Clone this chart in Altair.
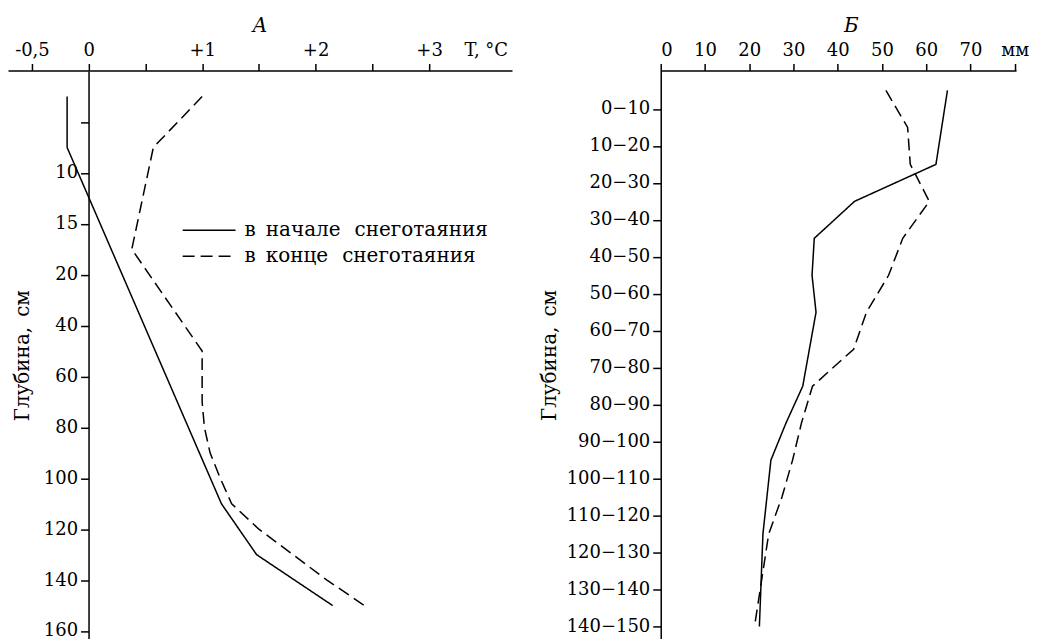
import json
import altair as alt
import pandas as pd

FONT = "DejaVu Serif"
SERIES = ["в\u2002начале\u2002\u2009снеготаяния", "в\u2002конце\u2002\u2009снеготаяния"]
DEPTH_TITLE = "Глубина,\u2002см"

# ---- Panel A: soil temperature profile ----
a_start_temp = [-0.19, -0.19, 1.17, 1.48, 2.15]
a_start_depth = [2.5, 7.5, 110, 130, 150]
a_end_temp = [1.0, 0.57, 0.38, 1.0, 1.0, 1.02, 1.07, 1.16, 1.26, 1.5, 1.8, 2.1, 2.43]
a_end_depth = [2.5, 7.5, 17.5, 50, 70, 80, 90, 100, 110, 120, 130, 140, 150]

a_temp_ticks = [-0.5, 0, 0.5, 1, 1.5, 2, 2.5, 3, 3.5]
a_temp_labels = ["-0,5", "0", "", "+1", "", "+2", "", "+3", "T, °C"]
a_depth_ticks = [5, 10, 15, 20, 40, 60, 80, 100, 120, 140, 160]
a_depth_labels = ["", "10", "15", "20", "40", "60", "80", "100", "120", "140", "160"]

# piecewise (non-uniform) depth axis of panel A
a_depth_breaks = [0, 5, 10, 15, 20, 40, 60, 80, 100, 120, 140, 160, 163.2]
a_break_pos = [0.6 + 51.0 * i for i in range(12)] + [570]

# ---- Panel B: water content by layer ----
b_start_depth = [5, 25, 35, 45, 55, 65, 85, 95, 105, 125, 150]
b_start_mm = [64.8, 62.2, 43.8, 34.7, 34.2, 35.1, 32.1, 28.3, 24.9, 23.1, 22.3]
b_end_depth = [5, 15, 25, 35, 45, 55, 65, 75, 85, 95, 105, 115, 125, 150]
b_end_mm = [50.9, 55.8, 56.4, 60.7, 54.7, 51.5, 46.5, 43.6, 34.3, 31.8, 29.8, 27.4, 24.4, 21.2]

b_mm_ticks = [0, 10, 20, 30, 40, 50, 60, 70, 80]
b_mm_labels = ["0", "10", "20", "30", "40", "50", "60", "70", "мм"]
b_depth_ticks = [10, 20, 30, 40, 50, 60, 70, 80, 90, 100, 110, 120, 130, 140, 150]
b_layer_labels = ["0−10", "10−20", "20−30", "30−40", "40−50", "50−60", "60−70",
                  "70−80", "80−90", "90−100", "100−110", "110−120", "120−130",
                  "130−140", "140−150"]


def label_expr(values, labels):
    return "%s[indexof(%s, datum.value)]" % (
        json.dumps(labels, ensure_ascii=False), json.dumps(values))


dfA = pd.DataFrame({
    "t": a_start_temp + a_end_temp,
    "depth": a_start_depth + a_end_depth,
    "series": [SERIES[0]] * len(a_start_temp) + [SERIES[1]] * len(a_end_temp),
})
dfB = pd.DataFrame({
    "mm": b_start_mm + b_end_mm,
    "depth": b_start_depth + b_end_depth,
    "series": [SERIES[0]] * len(b_start_mm) + [SERIES[1]] * len(b_end_mm),
})

dash_scale = alt.Scale(domain=SERIES, range=[[1, 0], [12, 6]])

title_kw = dict(font=FONT, fontSize=20, fontStyle="italic", fontWeight="normal",
                color="black", anchor="middle", offset=6, frame="group")

chartA = alt.Chart(dfA).mark_line(color="black", strokeWidth=1.5).encode(
    x=alt.X("t:Q",
            scale=alt.Scale(domain=[-0.711, 3.731], nice=False, zero=False),
            axis=alt.Axis(orient="top", values=a_temp_ticks, title=None,
                          labelExpr=label_expr(a_temp_ticks, a_temp_labels),
                          tickSize=7, labelPadding=4,
                          tickOpacity={"condition": {"test": "datum.value == 3.5", "value": 0}, "value": 1})),
    y=alt.Y("depth:Q",
            scale=alt.Scale(domain=a_depth_breaks, range=a_break_pos, nice=False, zero=False),
            axis=alt.Axis(orient="left", offset=-80.7, values=a_depth_ticks,
                          labelExpr=label_expr(a_depth_ticks, a_depth_labels),
                          title=DEPTH_TITLE, tickSize=8, titlePadding=11)),
    strokeDash=alt.StrokeDash("series:N", scale=dash_scale,
                              legend=alt.Legend(title=None, orient="none", legendX=190.5, legendY=149,
                                                symbolType="M-2.65,0L2.65,0", symbolSize=400,
                                                symbolStrokeWidth=1.5, symbolStrokeColor="black",
                                                symbolFillColor="transparent",
                                                labelFont=FONT, labelFontSize=20, labelColor="black",
                                                labelLimit=500, labelOffset=24.5, rowPadding=5,
                                                padding=0)),
    order="depth:Q",
).properties(width=505, height=570, title=alt.TitleParams("A", **title_kw))

chartB = alt.Chart(dfB).mark_line(color="black", strokeWidth=1.5).encode(
    x=alt.X("mm:Q",
            scale=alt.Scale(domain=[0, 80.3], nice=False, zero=False),
            axis=alt.Axis(orient="top", values=b_mm_ticks, title=None,
                          labelExpr=label_expr(b_mm_ticks, b_mm_labels),
                          tickSize=7, labelPadding=4)),
    y=alt.Y("depth:Q",
            scale=alt.Scale(domain=[-0.4, 153.5], reverse=True, nice=False, zero=False),
            axis=alt.Axis(orient="left", values=b_depth_ticks,
                          labelExpr=label_expr(b_depth_ticks, b_layer_labels),
                          title=DEPTH_TITLE, tickSize=8, titlePadding=7)),
    strokeDash=alt.StrokeDash("series:N", scale=dash_scale, legend=None),
    order="depth:Q",
).properties(width=356, height=570, title=alt.TitleParams("Б", dx=13, **title_kw))

chart = alt.hconcat(chartA, chartB, spacing=27).resolve_scale(
    x="independent", y="independent", strokeDash="independent"
).properties(padding={"top": 7, "left": 0, "right": 0, "bottom": 0}).configure_axis(
    labelFont=FONT, labelFontSize=18, labelColor="black",
    titleFont=FONT, titleFontSize=20, titleFontWeight="normal", titleColor="black",
    domainColor="black", domainWidth=1.5, tickColor="black", tickWidth=1.5,
    grid=False, labelPadding=3,
).configure_view(stroke=None)

chart.save("out.html", embed_options={"renderer": "svg", "actions": False})
